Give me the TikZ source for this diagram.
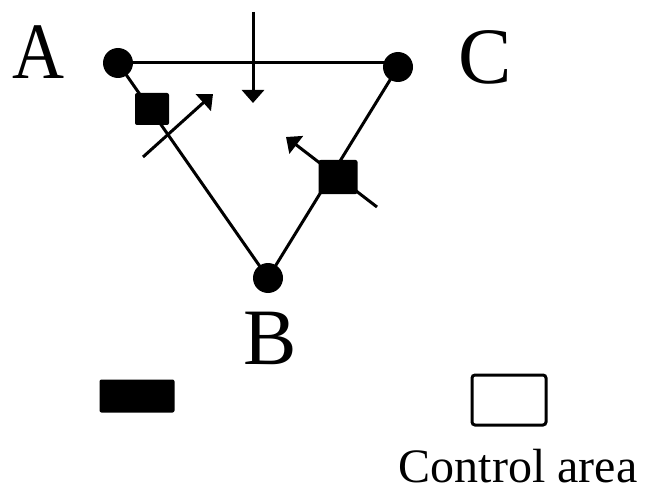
\documentclass[tikz,border=0pt]{standalone}
\usepackage{fontspec}
\usepackage{graphicx}
\setmainfont{Liberation Serif}
\usetikzlibrary{arrows.meta,backgrounds}
\tikzset{
  dot/.style={circle, fill=black, inner sep=0pt, minimum size=30pt},
  ctrlsq/.style={rectangle, fill=black, rounded corners=2pt, inner sep=0pt},
  link/.style={line width=3pt},
  flow/.style={line width=3pt, -{Triangle[width=22pt,length=13pt]}},
  bigletter/.style={anchor=base, inner sep=0pt, font=\fontsize{80}{80}\selectfont},
  caption/.style={anchor=base, inner sep=0pt, font=\fontsize{48}{48}\selectfont}
}
\begin{document}
\begin{tikzpicture}[x=1pt, y=-1pt]
\useasboundingbox (0,0) rectangle (648,492);
% area nodes
\node[dot] (A) at (118,63) {};
\node[dot] (C) at (398,67) {};
\node[dot] (B) at (268,278) {};
% control squares
\node[ctrlsq, minimum width=34pt, minimum height=32pt] (S1) at (152,109) {};
\node[ctrlsq, minimum width=39pt, minimum height=34pt] (S2) at (338,177) {};
% tie lines
\begin{scope}[on background layer]
  \draw[link] (A.center) -- (C.center |- A.center);
  \draw[link] (A.center) -- (B.center);
  \draw[link] (C.center) -- (B.center);
\end{scope}
% flow arrows
\coordinate (v1) at (253,12);
\coordinate (v2) at (253,103);
\draw[flow] (v1) -- (v2);
\coordinate (d1s) at (143,157);
\coordinate (d1e) at (213,94);
\begin{scope}[on background layer]
  \draw[flow] (d1s) -- (d1e);
\end{scope}
\coordinate (d2s) at (377,207);
\coordinate (d2e) at (286,137);
\begin{scope}[on background layer]
  \draw[flow] (d2s) -- (d2e);
\end{scope}
% labels
\node[bigletter] (lA) at (38,79) {\scalebox{0.9}[1]{A}};
\node[bigletter] (lC) at (485,84) {C};
\node[bigletter] (lB) at (270,364) {B};
% legend
\node[rectangle, fill=black, rounded corners=2pt, minimum width=75pt, minimum height=33pt, inner sep=0pt] (L1) at (137,396) {};
\node[rectangle, draw=black, line width=3pt, rounded corners=3pt, minimum width=74pt, minimum height=50pt, inner sep=0pt] (L2) at (509,400) {};
\node[caption] (cap) at (518,482) {Control area};
\end{tikzpicture}
\end{document}
